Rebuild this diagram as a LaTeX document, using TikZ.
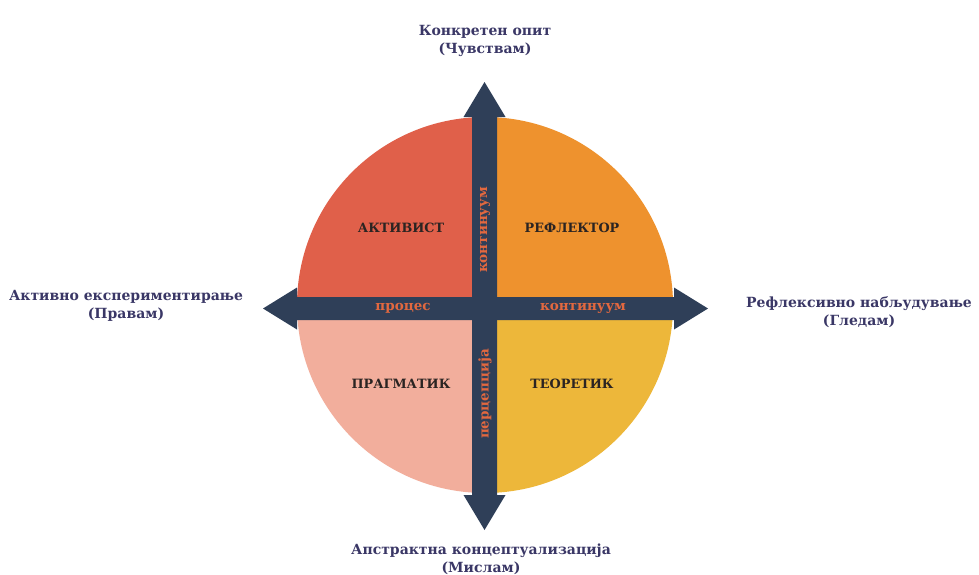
\documentclass[tikz,border=0pt]{standalone}
\usepackage{fontspec}
\setmainfont{DejaVu Serif}
\begin{document}
\begin{tikzpicture}[x=1pt,y=-1pt,
  axislabel/.style={font=\bfseries\fontsize{14}{18}\selectfont, text=axiscol, align=center, inner sep=0pt},
  quadlabel/.style={font=\bfseries\fontsize{12.8}{15}\selectfont, text=quadtext, inner sep=0pt},
  shaftlabel/.style={font=\bfseries\fontsize{13.5}{15}\selectfont, text=shafttext, inner sep=0pt},
  fatarrow/.style={fill=arrowcol, draw=none}]
\definecolor{qul}{HTML}{E0604A}
\definecolor{qur}{HTML}{EE922E}
\definecolor{qll}{HTML}{F2AE9C}
\definecolor{qlr}{HTML}{EDB73A}
\definecolor{arrowcol}{HTML}{2F3F58}
\definecolor{axiscol}{HTML}{3A3766}
\definecolor{quadtext}{HTML}{2B2422}
\definecolor{shafttext}{HTML}{E2683F}
\useasboundingbox[fill=white] (0,0) rectangle (979,574);
% circle quadrants
\coordinate (c) at (485,305);
\fill[qul] (c) -- ++(-188,0) arc[start angle=180, end angle=270, radius=188] -- cycle;
\fill[qur] (c) -- ++(0,-188) arc[start angle=270, end angle=360, radius=188] -- cycle;
\fill[qlr] (c) -- ++(188,0) arc[start angle=0, end angle=90, radius=188] -- cycle;
\fill[qll] (c) -- ++(0,188) arc[start angle=90, end angle=180, radius=188] -- cycle;
% horizontal arrow: 263..708, y 308.5
\fill[fatarrow] (263,308.5) -- (297,287.5) -- (297,297) -- (674,297) -- (674,287.5) -- (708,308.5)
  -- (674,329.5) -- (674,320) -- (297,320) -- (297,329.5) -- cycle;
% vertical arrow: 82..530, x 484.5
\fill[fatarrow] (484.5,82) -- (505.5,117) -- (497,117) -- (497,495) -- (505.5,495) -- (484.5,530)
  -- (463.5,495) -- (472,495) -- (472,117) -- (463.5,117) -- cycle;
% quadrant labels
\node[quadlabel] (akt) at (401,228) {АКТИВИСТ};
\node[quadlabel] (ref) at (572,228) {РЕФЛЕКТОР};
\node[quadlabel] (pra) at (401,384) {ПРАГМАТИК};
\node[quadlabel] (teo) at (572,384) {ТЕОРЕТИК};
% shaft labels
\node[shaftlabel] (proc) at (403,308.5) {процес};
\node[shaftlabel] (kont1) at (583,308.5) {континуум};
\node[shaftlabel, rotate=90] (kont2) at (485,230) {континуум};
\node[shaftlabel, rotate=90] (perc) at (485,394) {перцепција};
% axis labels
\node[axislabel] (top) at (485,41) {Конкретен опит\\(Чувствам)};
\node[axislabel] (left) at (126,306) {Активно експериментирање\\(Правам)};
\node[axislabel] (right) at (859,312) {Рефлексивно набљудување\\(Гледам)};
\node[axislabel] (bottom) at (481,559) {Апстрактна концептуализација\\(Мислам)};
\end{tikzpicture}
\end{document}
